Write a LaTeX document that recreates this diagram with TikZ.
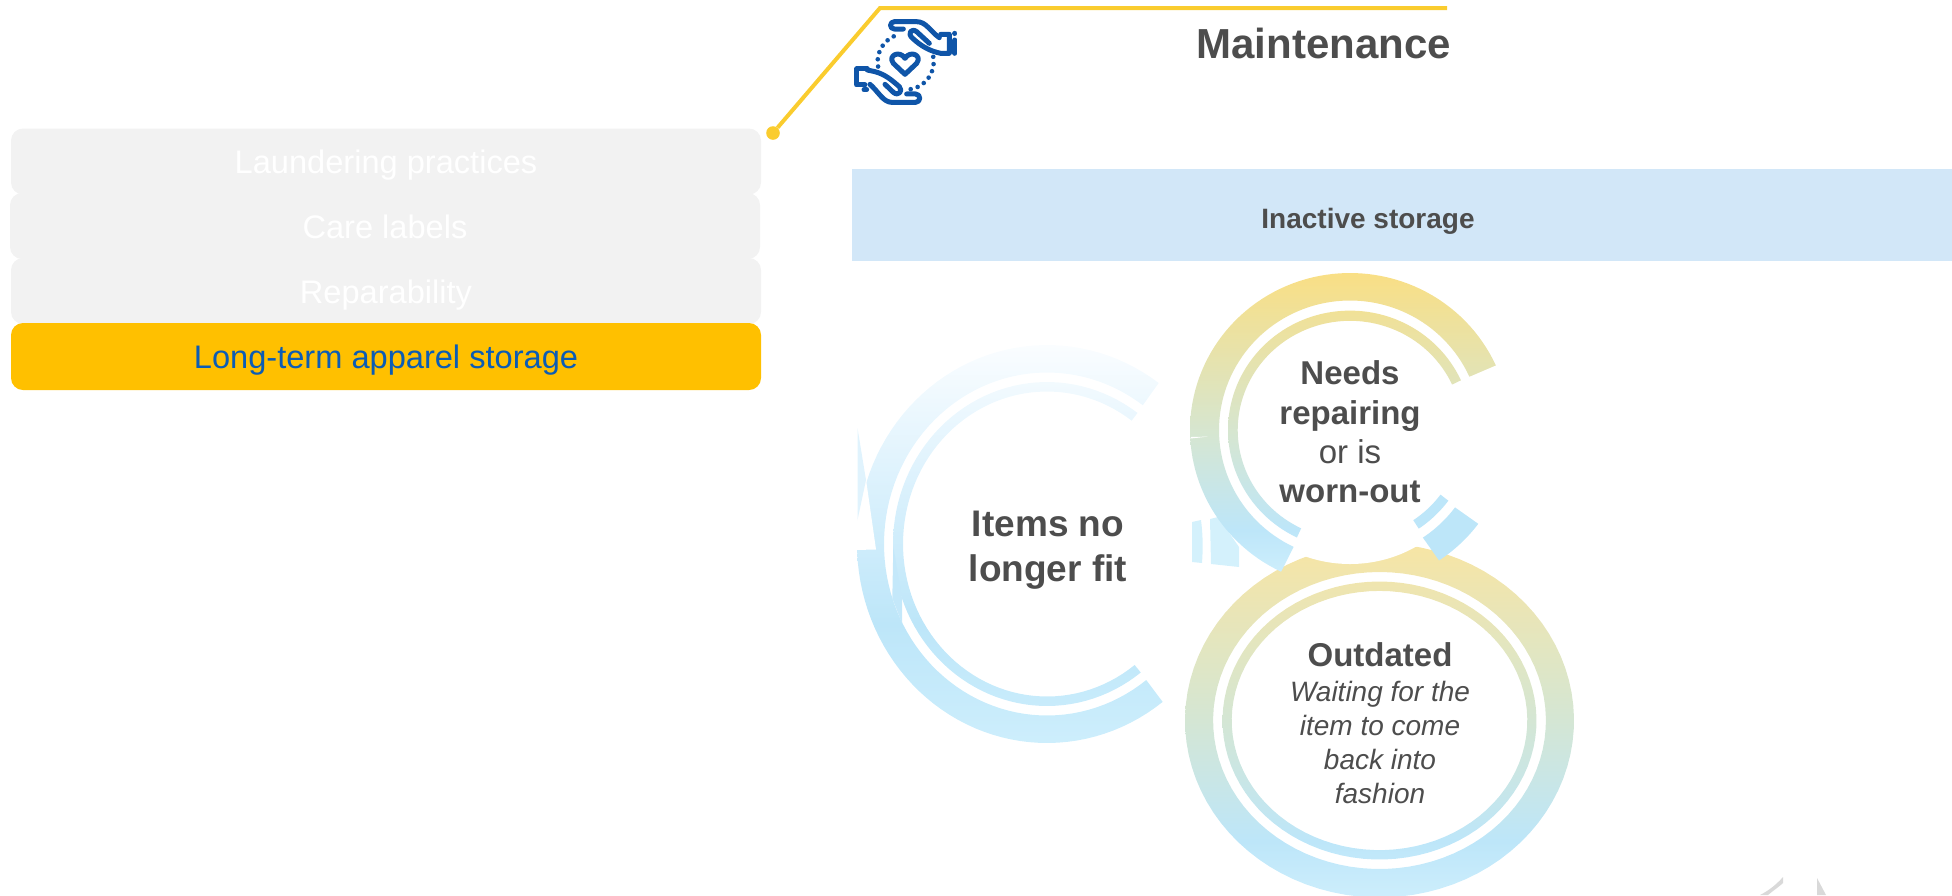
\documentclass[tikz,border=0pt]{standalone}
\usepackage{fontspec}
\setmainfont{Liberation Sans}
\definecolor{darktext}{HTML}{4D4D4D}
\definecolor{linkyellow}{HTML}{FACC2E}
\definecolor{iconblue}{HTML}{0F55A8}
\definecolor{boxgray}{HTML}{F2F2F2}
\definecolor{boxorange}{HTML}{FFC000}
\definecolor{boxtext}{HTML}{0B5CB5}
\definecolor{bandblue}{HTML}{D2E7F8}
\definecolor{ringblue}{HTML}{BDE6F9}
\definecolor{ringpale}{HTML}{CDEEFC}
\definecolor{ringfaint}{HTML}{FAFDFF}
\definecolor{ringsoft}{HTML}{E0F3FD}
\definecolor{ringgreen}{HTML}{D4E6D4}
\definecolor{ringgold}{HTML}{F9DF85}
\definecolor{ringsand}{HTML}{F7E5A4}
\pgfdeclareverticalshading{fitring}{100bp}{color(0bp)=(ringpale); color(25bp)=(ringpale); color(40bp)=(ringblue); color(60bp)=(ringsoft); color(75bp)=(ringfaint); color(100bp)=(ringfaint)}
\pgfdeclareverticalshading{repairring}{100bp}{color(0bp)=(ringpale); color(25bp)=(ringpale); color(32bp)=(ringblue); color(47bp)=(ringgreen); color(75bp)=(ringgold); color(100bp)=(ringgold)}
\pgfdeclareverticalshading{outdatedring}{100bp}{color(0bp)=(ringpale); color(25bp)=(ringpale); color(33bp)=(ringblue); color(50bp)=(ringgreen); color(75bp)=(ringsand); color(100bp)=(ringsand)}
\tikzset{
  menubox/.style={rectangle,rounded corners=12pt,minimum width=750pt,minimum height=66pt,inner sep=0pt,
    text height=24pt,text depth=0pt,font=\fontsize{32.6}{38}\selectfont,text=white,fill=boxgray},
  ringtext/.style={text=darktext,align=center,inner sep=0pt},
  iconline/.style={draw=iconblue,line width=5pt,line cap=round,line join=round},
  icondots/.style={draw=iconblue,line width=4.6pt,line cap=round,dash pattern=on 0pt off 7.3pt},
  % same gradient span for both bands of a ring
  fitshade/.style={shade,shading=fitring,insert path={(1047,345) (1047,743)}},
  repairshade/.style={shade,shading=repairring,insert path={(1350,273) (1350,572)}},
  outdatedshade/.style={shade,shading=outdatedring,insert path={(1380,543.5) (1380,898)}},
}
% one band of a ring: options, centre, outer radii, inner radii, start and end angle
\newcommand{\ringband}[9]{%
  \path[#1] plot[domain=#8:#9,samples=90] ({#2+#4*cos(\x)},{#3+#5*sin(\x)})
    -- plot[domain=#9:#8,samples=90] ({#2+#6*cos(\x)},{#3+#7*sin(\x)}) -- cycle;}
\begin{document}
\begin{tikzpicture}[x=1pt,y=-1pt]
\useasboundingbox (0,0) rectangle (1952,895);

% menu on the left
\node[menubox] (laundering) at (386,161.5) {Laundering practices};
\node[menubox] (carelabels) at (385,226) {Care labels};
\node[menubox] (reparability) at (386,291) {Reparability};
\node[menubox,fill=boxorange,text=boxtext,minimum height=67pt] (longterm) at (386,356.5) {Long-term apparel storage};

% yellow link line
\node[circle,fill=linkyellow,minimum size=13.6pt,inner sep=0pt] (linkdot) at (773,133) {};
\coordinate (linkbend) at (880,8);
\coordinate (linkend) at (1447,8);
\draw[linkyellow,line width=4pt,line join=miter] (linkdot) -- (linkbend) -- (linkend);

\node[text=darktext,anchor=base east,inner sep=0pt,font=\bfseries\fontsize{42}{50}\selectfont] (maintenance) at (1451,58) {Maintenance};

% hands icon
\begin{scope}[shift={(850,15)},x=.3333pt,y=-.3333pt]
\draw[iconline] (160,42) -- (133,42) .. controls (118,42) and (118,20) .. (133,20) -- (200,20)
  .. controls (228,20) and (240,48) .. (268,68);
\draw[iconline] (272,58) -- (298,58) -- (298,115) -- (272,115) .. controls (240,108) and (215,95) .. (188,70)
  .. controls (170,55) and (185,38) .. (200,50) -- (238,85);
\draw[iconline] (315,75) -- (315,115);
\draw[iconline] (315,55) -- (315,55.5);
\draw[iconline] (170,237) -- (197,237) .. controls (213,237) and (213,262) .. (197,262) -- (125,262)
  .. controls (100,262) and (85,230) .. (60,208);
\draw[iconline] (52,162) -- (20,162) -- (20,210) -- (45,210);
\draw[iconline] (42,224) -- (50,224);
\draw[iconline] (52,165) -- (75,170) .. controls (105,178) and (125,195) .. (148,215)
  .. controls (160,228) and (145,245) .. (130,232) -- (105,208);
\draw[iconline] (165,178) -- (130,145) .. controls (112,120) and (150,105) .. (165,130)
  .. controls (180,105) and (218,120) .. (200,145) -- cycle;
\draw[icondots] plot[domain=-190:-102,samples=30] ({167+84*cos(\x)},{140+84*sin(\x)});
\draw[icondots] plot[domain=-10:81,samples=30] ({167+84*cos(\x)},{140+84*sin(\x)});
\end{scope}

\node[fill=bandblue,minimum width=1100pt,minimum height=92pt,inner sep=0pt] (storageband) at (1402,215) {};
\node[text=darktext,anchor=base,inner sep=0pt,font=\bfseries\fontsize{28}{34}\selectfont] (storagetitle) at (1368,228) {Inactive storage};

% outdated ring
\ringband{outdatedshade}{1379.5}{720.5}{194.5}{177}{166.4}{148.5}{-90}{270}
\ringband{outdatedshade}{1379.5}{720.5}{157}{139}{147.8}{129.6}{-90}{270}
\node[circle,fill=white,minimum size=268pt,inner sep=0pt] (repairdisc) at (1350,430) {};

% pieces left of the repair ring
\path[fill=ringpale!85!white] (1192,522) -- (1201,520) .. controls (1203,535) and (1203,550) .. (1202,563) -- (1192,562) -- cycle;
\path[fill=ringpale!85!white] (1210,519) -- (1218,517) -- (1239,547) -- (1239,567) -- (1211,564) -- cycle;

% repair ring
\ringband{repairshade}{1350}{430}{160}{157}{131}{129.5}{115.5}{335.7}
\ringband{repairshade}{1350}{430}{122}{119.4}{112.3}{109.2}{115.8}{335.4}
\ringband{fill=ringblue}{1350}{430}{160}{157}{131}{129.5}{36.7}{56.2}
\ringband{fill=ringblue}{1350}{430}{122}{119.4}{112.3}{109.2}{36.3}{55.7}
\path[fill=white] (1190.5,438.5) -- (1208,436.6) -- (1191,437) -- cycle;

% fit ring
\ringband{fitshade}{1047}{544}{190}{199}{163}{171.5}{52.5}{306}
\ringband{fitshade}{1047}{544}{154}{162}{144}{152.5}{52.5}{306}
\path[fill=white] (866,479.5) -- (876,549.5) -- (855,550) -- (855,520) -- cycle;
\path[fill=ringsoft] (857.5,428) -- (866,480) -- (857.5,520) -- cycle;
\path[fill=ringblue!90!white] (893.3,546.7) -- (892.3,598.3) -- (902,623.3) -- (902,598.3) -- cycle;

% ring texts
\node[ringtext,font=\bfseries\fontsize{37}{45}\selectfont] (fittext) at (1048,550) {Items no\\longer fit};
\node[ringtext,font=\fontsize{33}{39.3}\selectfont] (repairtext) at (1350,432) {\textbf{Needs}\\\textbf{repairing}\\or is\\\textbf{worn-out}};
\node[ringtext,font=\fontsize{28}{33.7}\selectfont\itshape] (outdatedtext) at (1380,722.8) {{\upshape\bfseries\fontsize{33}{33.7}\selectfont Outdated}\\[2pt]Waiting for the\\item to come\\back into\\fashion};

% faint corner marks
\path[fill=black!15] (1783,877) .. controls (1776,885) and (1768,891) .. (1760,895) -- (1768,895) .. controls (1774,890) and (1780,886) .. (1783,883) -- cycle;
\path[fill=black!15] (1817,878) -- (1826,895) -- (1817,895) -- cycle;
\end{tikzpicture}
\end{document}
